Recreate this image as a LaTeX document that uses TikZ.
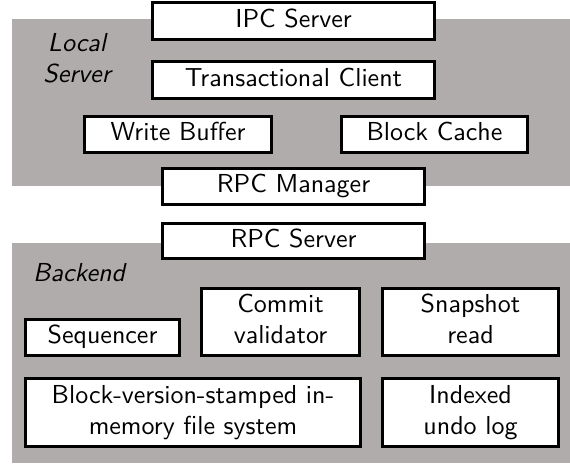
\documentclass[tikz,border=0pt]{standalone}
\newcommand\btext[1]{\scalebox{2.6}{\begin{tabular}{@{}c@{}}#1\end{tabular}}}
\begin{document}
\definecolor{backgray}{RGB}{176,172,171}
\begin{tikzpicture}[x=1pt,y=-1pt,
  box/.style={draw=black, line width=2.5pt, fill=white, inner sep=0pt, align=center,
    font=\sffamily},
  grouplabel/.style={inner sep=0pt, align=center, font=\sffamily\itshape},
  region/.style={fill=backgray, draw=none}]
\useasboundingbox (0,0) rectangle (570,463);
% gray regions
\fill[region] (12,19) rectangle (570,186);
\fill[region] (12,243) rectangle (570,463);
% local server
\node[box, minimum width=282pt, minimum height=37pt] (ipc) at (293.5,21) {\btext{IPC Server}};
\node[box, minimum width=282pt, minimum height=37pt] (tc) at (293.5,80) {\btext{Transactional Client}};
\node[box, minimum width=187pt, minimum height=36pt] (wb) at (178,134.5) {\btext{Write Buffer}};
\node[box, minimum width=186pt, minimum height=36pt] (bc) at (434.5,134.5) {\btext{Block Cache}};
\node[box, minimum width=262pt, minimum height=36pt] (rpcm) at (293.5,186.5) {\btext{RPC Manager}};
\node[grouplabel] (local) at (77,61) {\btext{Local\\Server}};
% backend
\node[box, minimum width=262pt, minimum height=35pt] (rpcs) at (293.5,241) {\btext{RPC Server}};
\node[grouplabel, anchor=base west] (backend) at (33,281) {\scalebox{2.6}{Backend}};
\node[box, minimum width=154pt, minimum height=36pt] (seq) at (102.5,337.5) {\btext{Sequencer}};
\node[box, minimum width=158pt, minimum height=67pt] (cv) at (280.5,322) {\btext{Commit\\validator}};
\node[box, minimum width=176pt, minimum height=67pt] (sr) at (470.5,322) {\btext{Snapshot\\read}};
\node[box, minimum width=335pt, minimum height=68pt] (fs) at (193,412.5) {\btext{Block-version-stamped in-\\memory file system}};
\node[box, minimum width=176pt, minimum height=68pt] (ul) at (470.5,412.5) {\btext{Indexed\\undo log}};
\end{tikzpicture}
\end{document}
